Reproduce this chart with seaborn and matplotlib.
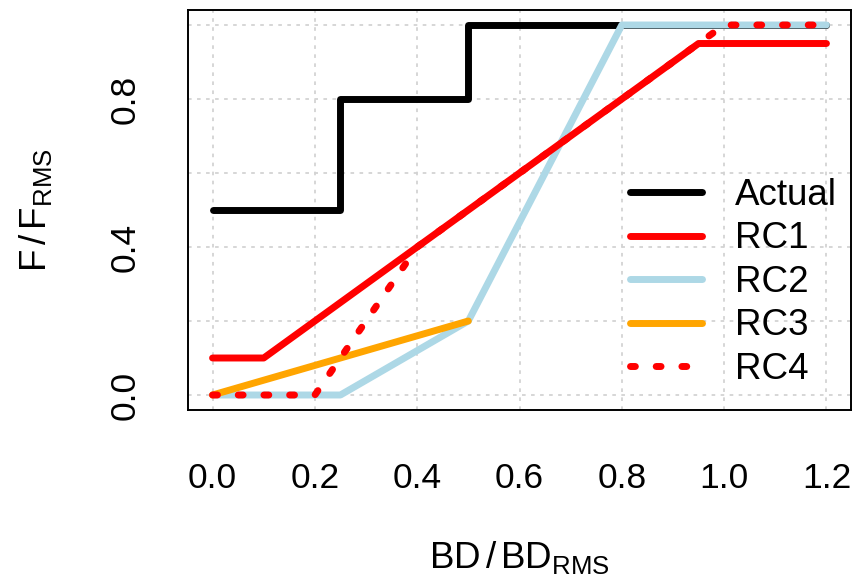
import numpy as np
import pandas as pd
import matplotlib
matplotlib.use("Agg")
import matplotlib.pyplot as plt
import seaborn as sns

# ---- data ----
actual_x = [0.0, 0.25, 0.25, 0.5, 0.5, 0.8, 1.2]
actual_y = [0.5, 0.5, 0.8, 0.8, 1.0, 1.0, 1.0]
rc1_x = [0.0, 0.1, 0.95, 1.2]
rc1_y = [0.1, 0.1, 0.95, 0.95]
rc2_x = [0.0, 0.25, 0.5, 0.8, 1.2]
rc2_y = [0.0, 0.0, 0.2, 1.0, 1.0]
rc3_x = [0.0, 0.5]
rc3_y = [0.0, 0.2]
rc4_x = [0.0, 0.2, 0.4, 1.0, 1.2]
rc4_y = [0.0, 0.0, 0.4, 1.0, 1.0]

x_ticks = [0.0, 0.2, 0.4, 0.6, 0.8, 1.0, 1.2]
x_ticklabels = ["0.0", "0.2", "0.4", "0.6", "0.8", "1.0", "1.2"]
y_ticks = [0.0, 0.2, 0.4, 0.6, 0.8, 1.0]
y_ticklabels = ["0.0", "", "0.4", "", "0.8", ""]

sns.set_style("white")
plt.rcParams['font.family'] = ['Liberation Sans', 'DejaVu Sans']
plt.rcParams['mathtext.fontset'] = 'custom'
plt.rcParams['mathtext.rm'] = 'Liberation Sans'
plt.rcParams['mathtext.it'] = 'Liberation Sans'
plt.rcParams['text.color'] = 'black'
plt.rcParams['axes.labelcolor'] = 'black'

fig = plt.figure(figsize=(8.56, 5.78), dpi=100)
W, H = 856, 578
L, R, T, B = 188, 851, 10.2, 409.8
ax = fig.add_axes([L / W, 1 - B / H, (R - L) / W, (B - T) / H])

LW = 5.0
series = [
    ("Actual", actual_x, actual_y, "black", "-"),
    ("RC2", rc2_x, rc2_y, "#ADD8E6", "-"),
    ("RC1", rc1_x, rc1_y, "red", "-"),
    ("RC3", rc3_x, rc3_y, "orange", "-"),
    ("RC4", rc4_x, rc4_y, "red", ":"),
]
handles = {}
for name, xs, ys, col, ls in series:
    df = pd.DataFrame({"x": xs, "y": ys})
    sns.lineplot(data=df, x="x", y="y", sort=False, estimator=None, ax=ax,
                 color=col, linewidth=LW, legend=False)
    line = ax.lines[-1]
    line.set_solid_capstyle("round")
    line.set_solid_joinstyle("round")
    line.set_dash_capstyle("round")
    line.set_zorder(3)
    if ls == ":":
        line.set_dashes([0.7, 3.0])
    handles[name] = line

ax.set_xlim(-0.048, 1.248)
ax.set_ylim(-0.04, 1.04)
ax.set_xticks(x_ticks)
ax.set_xticklabels(x_ticklabels)
ax.set_yticks(y_ticks)
ax.set_yticklabels(y_ticklabels, rotation=90, va="center")
ax.grid(True, color="#D3D3D3", linestyle=(0, (2, 3)), linewidth=1.3)
ax.set_axisbelow(True)
for s in ax.spines.values():
    s.set_color("black")
    s.set_linewidth(1.4)
ax.tick_params(axis="both", direction="out", length=15.5, width=1.0,
               color="black", labelsize=25.5, labelcolor="black")
ax.tick_params(axis="x", pad=22)
ax.tick_params(axis="y", pad=18)

ax.set_xlabel(r"$\mathregular{BD\,/\,BD_{RMS}}$", fontsize=26.5, va="center")
ax.xaxis.set_label_coords(0.5, -0.37)
ax.set_ylabel(r"$\mathregular{F\,/\,F_{RMS}}$", fontsize=26.5, va="center")
ax.yaxis.set_label_coords(-0.23, 0.5)

order = ["Actual", "RC1", "RC2", "RC3", "RC4"]
leg = ax.legend([handles[n] for n in order], order, loc="upper left",
                bbox_to_anchor=(630 / W, 1 - 178 / H), bbox_transform=fig.transFigure,
                frameon=False, fontsize=26.5, handlelength=1.95, handletextpad=0.9,
                labelspacing=0.23, borderpad=0, borderaxespad=0)

fig.savefig("out.png", dpi=100)
